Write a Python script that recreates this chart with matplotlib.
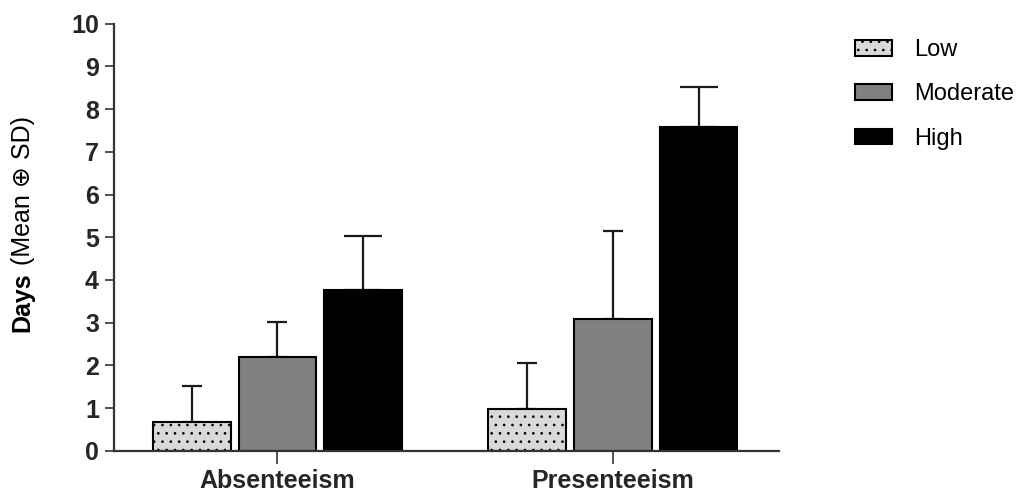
import numpy as np
import matplotlib
matplotlib.use("Agg")
import matplotlib.pyplot as plt

plt.rcParams['font.family'] = ['Liberation Sans', 'DejaVu Sans']
plt.rcParams['hatch.linewidth'] = 0.7

# data
categories = ["Absenteeism", "Presenteeism"]
levels = ["Low", "Moderate", "High"]
means = {"Low": [0.68, 0.97], "Moderate": [2.19, 3.08], "High": [3.76, 7.59]}
sds = {"Low": [0.84, 1.09], "Moderate": [0.83, 2.07], "High": [1.28, 0.93]}

colors = {"Low": "#d9d9d9", "Moderate": "#808080", "High": "#000000"}
hatches = {"Low": "..", "Moderate": None, "High": None}
caps = {"Low": 7.2, "Moderate": 7.2, "High": 14}
dark = "#333333"

fig = plt.figure(figsize=(10.35, 4.95), dpi=100)
ax = fig.add_axes([0.1097, 0.0895, 0.7524 - 0.1097, 0.952 - 0.0895])

x = np.arange(len(categories))
width = 0.232
pitch = 0.256
for i, lvl in enumerate(levels):
    pos = x + (i - 1) * pitch
    ax.bar(pos, means[lvl], width, color=colors[lvl], edgecolor="black",
           linewidth=1.5, hatch=hatches[lvl], label=lvl, zorder=2)
    ax.errorbar(pos, means[lvl], yerr=[np.zeros(len(x)), sds[lvl]], fmt="none",
                ecolor="#1a1a1a", elinewidth=1.6, capsize=caps[lvl],
                capthick=1.6, zorder=1)

ax.set_xlim(-0.489, 1.495)
ax.set_ylim(0, 10)
ax.set_yticks(range(0, 11))
ax.set_xticks(x)
ax.set_xticklabels(categories)

for side in ["top", "right"]:
    ax.spines[side].set_visible(False)
for side in ["left", "bottom"]:
    ax.spines[side].set_linewidth(1.6)
    ax.spines[side].set_color(dark)

ax.tick_params(axis="y", length=6.5, width=1.2, color=dark, pad=4,
               labelsize=18, labelcolor="#262626")
ax.tick_params(axis="x", length=9, width=1.2, color=dark, pad=4,
               labelsize=18, labelcolor="#262626")
for lab in ax.get_xticklabels() + ax.get_yticklabels():
    lab.set_fontweight("bold")

# y label: bold "Days" followed by a regular part
days = fig.text(0.022, 0.33, "Days", rotation=90, fontsize=18,
                fontweight="bold", ha="center", va="bottom")
ax.annotate(" (Mean \u2295 SD)", xy=(0.5, 1.0), xycoords=days, rotation=90,
            fontsize=18, ha="center", va="bottom",
            family=['Liberation Sans', 'DejaVu Sans'])

fig.legend(loc="upper left", bbox_to_anchor=(0.815, 0.945), frameon=False,
           fontsize=17, handlelength=1.57, handleheight=0.64,
           handletextpad=0.93, labelspacing=0.95, borderpad=0)

fig.savefig("out.png", dpi=100)
